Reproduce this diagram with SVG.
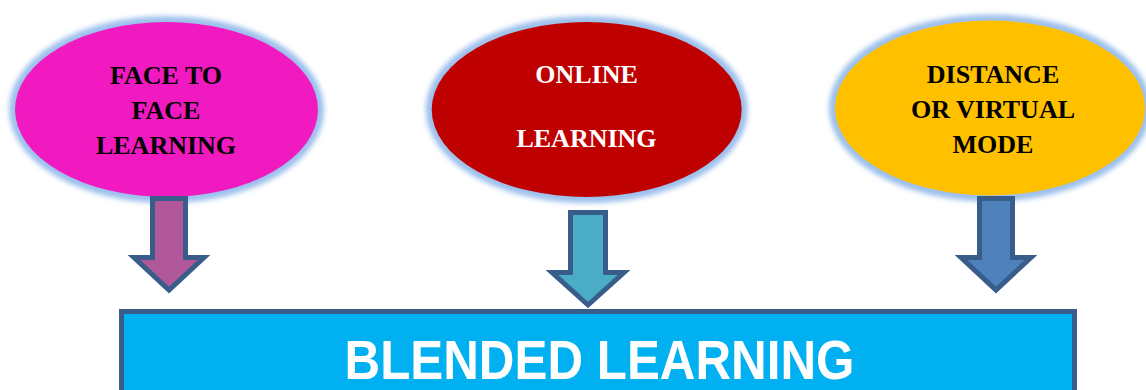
<svg xmlns="http://www.w3.org/2000/svg" width="1146" height="390" viewBox="0 0 1146 390">
<defs>
<filter id="glow" x="-10%" y="-10%" width="120%" height="120%">
<feGaussianBlur stdDeviation="2.5"/>
</filter>
</defs>
<style>
.halo{fill:none;stroke:#9cc0ec;stroke-width:11;filter:url(#glow)}
.lbl{font-family:"Liberation Serif","Times New Roman",serif;font-weight:bold;font-size:26px;text-anchor:middle}
.arrow{stroke:#385d8a;stroke-width:5;stroke-linejoin:miter;stroke-miterlimit:10}
</style>
<rect width="1146" height="390" fill="#ffffff"/>
<g id="face-to-face">
<ellipse class="halo" cx="166.5" cy="109.5" rx="152" ry="88"/>
<ellipse cx="166.5" cy="109.5" rx="151.5" ry="87.5" fill="#f01ac0"/>
<text class="lbl" fill="#000000" x="166" y="84">FACE TO</text>
<text class="lbl" fill="#000000" x="166" y="119">FACE</text>
<text class="lbl" fill="#000000" x="166" y="154">LEARNING</text>
</g>
<g id="online">
<ellipse class="halo" cx="586.7" cy="109.5" rx="155.5" ry="88"/>
<ellipse cx="586.7" cy="109.5" rx="155" ry="87.5" fill="#bf0000"/>
<text class="lbl" fill="#ffffff" x="586.5" y="83">ONLINE</text>
<text class="lbl" fill="#ffffff" x="586.5" y="146.5">LEARNING</text>
</g>
<g id="distance">
<ellipse class="halo" cx="990" cy="108" rx="155.5" ry="88"/>
<ellipse cx="990" cy="108" rx="155" ry="87.5" fill="#ffc000"/>
<text class="lbl" fill="#000000" x="993" y="82.5">DISTANCE</text>
<text class="lbl" fill="#000000" x="993" y="118">OR VIRTUAL</text>
<text class="lbl" fill="#000000" x="993" y="153">MODE</text>
</g>
<g id="connectors">
<polygon class="arrow" fill="#b0589a" points="152.5,198.5 185.5,198.5 185.5,257.5 204,257.5 169,290 134,257.5 152.5,257.5"/>
<polygon class="arrow" fill="#4bacc6" points="570.5,212.5 605.5,212.5 605.5,272.5 624,272.5 588,305 552,272.5 570.5,272.5"/>
<polygon class="arrow" fill="#4f81bd" points="979.5,198.5 1012.5,198.5 1012.5,257.5 1031,257.5 996,290 961,257.5 979.5,257.5"/>
</g>
<g id="blended">
<rect x="121.5" y="311.5" width="953" height="100" fill="#00b0f0" stroke="#385d8a" stroke-width="5"/>
<text x="599.5" y="379" fill="#ffffff" font-family="Liberation Sans, Arial, sans-serif" font-weight="bold" font-size="56" text-anchor="middle" textLength="510" lengthAdjust="spacingAndGlyphs">BLENDED LEARNING</text>
</g>
</svg>
